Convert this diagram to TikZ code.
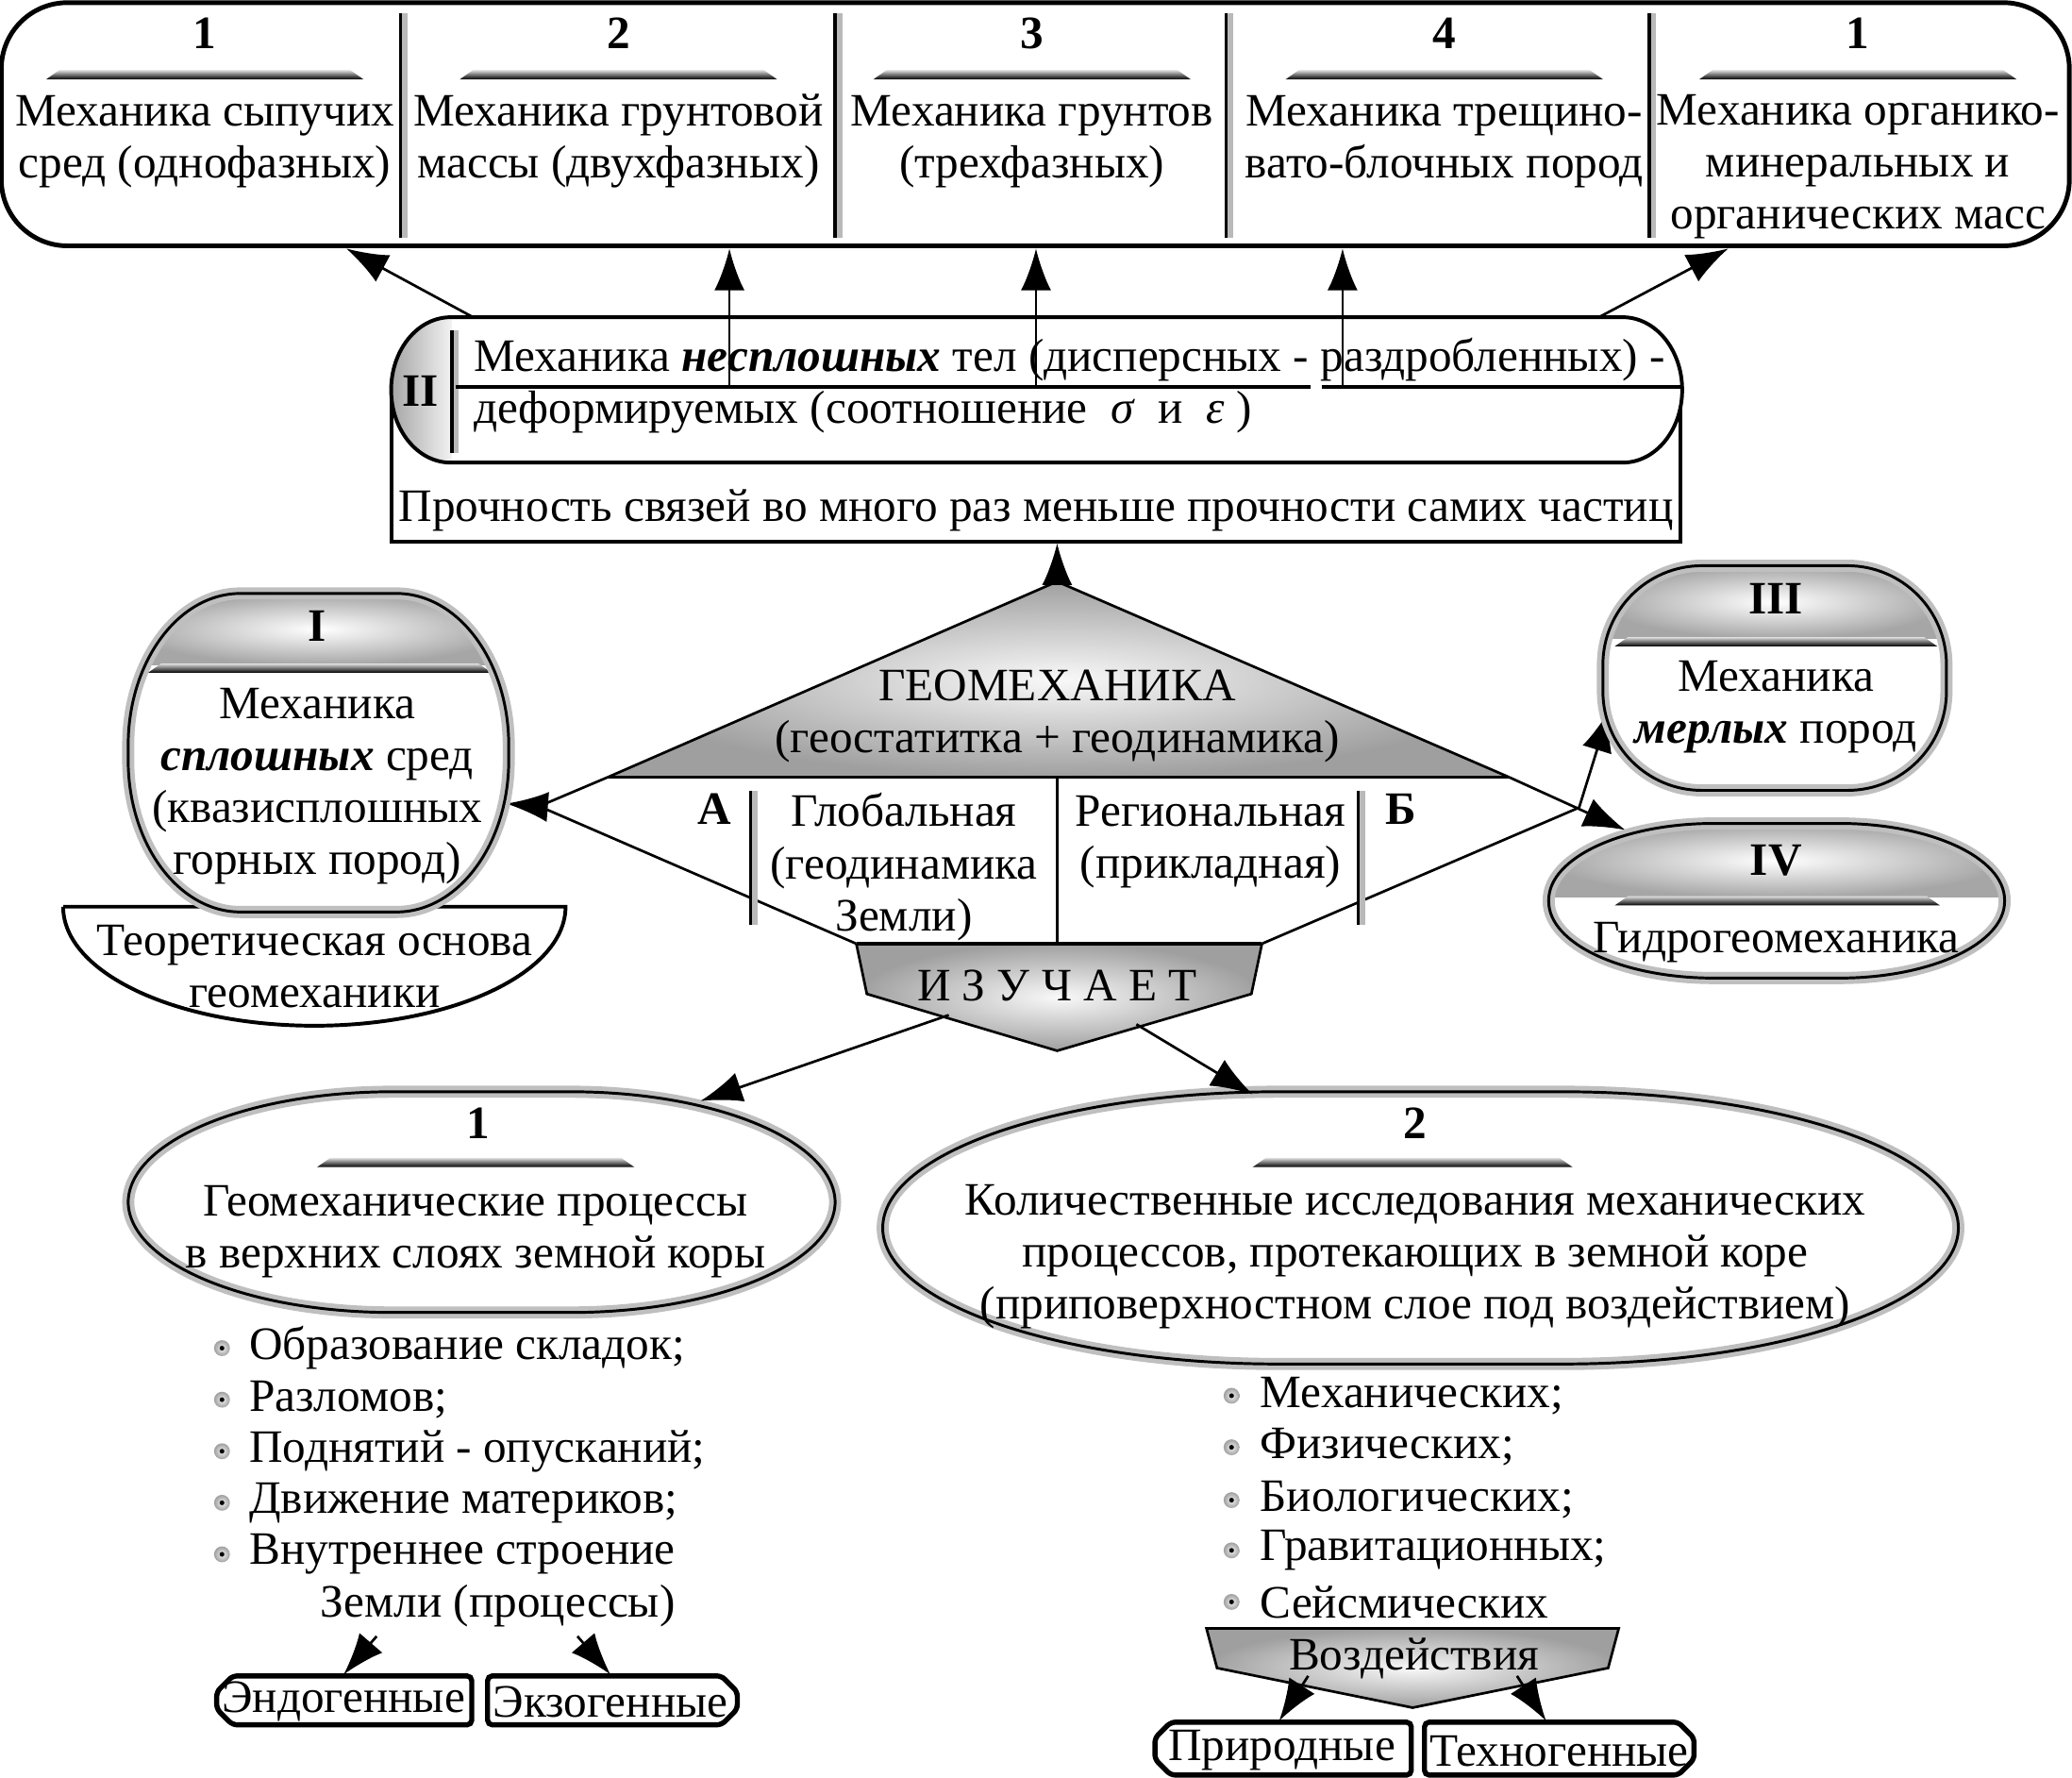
\documentclass[tikz,border=0pt]{standalone}
\usepackage{fontspec}
\setmainfont{Liberation Serif}
\usetikzlibrary{arrows.meta,calc}
\newcommand\ovalpath[6]{(#1+#5,#2) -- (#3-#5,#2) arc[start angle=90,end angle=0,x radius=#5*0.01cm,y radius=#6*0.01cm] -- (#3,#4-#6) arc[start angle=0,end angle=-90,x radius=#5*0.01cm,y radius=#6*0.01cm] -- (#1+#5,#4) arc[start angle=-90,end angle=-180,x radius=#5*0.01cm,y radius=#6*0.01cm] -- (#1,#2+#6) arc[start angle=180,end angle=90,x radius=#5*0.01cm,y radius=#6*0.01cm] -- cycle}
\newcommand\hdrbar[3]{\shade[top color=gray!25, bottom color=black] (#1,#3) -- (#1+10,#3-7) -- (#2-10,#3-7) -- (#2,#3) -- cycle;}
\newcommand\vdiv[3]{\draw[gray!55, line width=1.6pt] (#1+2.5,#2) -- (#1+2.5,#3); \draw[line width=0.7pt] (#1,#2) -- (#1,#3);}
\newcommand\bul[2]{\shade[inner color=gray!10, outer color=gray!75] (#1,#2) circle (0.06cm); \fill (#1,#2) circle (0.018cm);}
\begin{document}
\begin{tikzpicture}[x=0.01cm,y=-0.01cm,
  t/.style={font=\fontsize{10}{11.2}\selectfont, align=center, inner sep=0pt},
  tl/.style={font=\fontsize{10}{11.2}\selectfont, anchor=west, inner sep=0pt},
  b/.style={font=\fontsize{10}{11.2}\selectfont\bfseries, inner sep=0pt},
  arr/.style={line width=0.55pt, -{Latex[length=9pt,width=6.5pt]}},
  edge/.style={line width=0.55pt},
  outl/.style={line width=0.8pt},
  halo/.style={gray!50, line width=2.6pt},
  thin/.style={line width=0.6pt},
  boxl/.style={line width=1.1pt, fill=white, rounded corners=1pt},
]
\useasboundingbox (0,0) rectangle (1568,1345);
\fill[white] (0,0) rectangle (1568,1345);

% ---------- top box ----------
\draw[line width=1pt, rounded corners=0.5cm] (1,2) rectangle (1566,186);
\vdiv{303}{10}{180}
\vdiv{632}{10}{180}
\vdiv{928}{10}{180}
\vdiv{1248}{10}{180}
\foreach \x/\n in {155/1,468/2,781/3,1093/4,1406/1}{
  \node[b] (num\x) at (\x,25) {\n};
  \hdrbar{\x-120}{\x+120}{60}
}
\node[t] (c1) at (155,107) {Механика сыпучих\\сред (однофазных)};
\node[t] (c2) at (468,107) {Механика грунтовой\\массы (двухфазных)};
\node[t] (c3) at (781,107) {Механика грунтов\\(трехфазных)};
\node[t] (c4) at (1093,107) {Механика трещино-\\вато-блочных пород};
\node[t] (c5) at (1406,126) {Механика органико-\\минеральных и\\органических масс};

% ---------- block II ----------
\draw[outl] (296,296) -- (296,410) -- (1272,410) -- (1272,296);
\node[t] (strength) at (784,386) {Прочность связей во много раз меньше прочности самих частиц};
\fill[white] \ovalpath{296}{240}{1273}{350}{45}{55};
\begin{scope}
  \clip \ovalpath{296}{240}{1273}{350}{45}{55};
  \shade[left color=gray!70, right color=gray!10] (296,240) rectangle (342,350);
\end{scope}
\draw[outl] \ovalpath{296}{240}{1273}{350}{45}{55};
\vdiv{342}{250}{343}
\node[b] (ii) at (318,296) {II};
\draw[line width=0.8pt] (345,293) -- (992,293);
\draw[line width=0.8pt] (1000,293) -- (1272,293);
\node[tl] (l1) at (358,272) {Механика \textbf{\textit{несплошных}} тел (дисперсных - раздробленных) -};
\node[tl] (l2) at (358,312) {деформируемых (соотношение~ \textit{σ} ~и~ \textit{ε} )};

\coordinate (sa1) at (358,240); \coordinate (ta1) at (262,188);
\coordinate (sa2) at (552,293); \coordinate (ta2) at (552,188);
\coordinate (sa3) at (784,293); \coordinate (ta3) at (784,188);
\coordinate (sa4) at (1016,293); \coordinate (ta4) at (1016,188);
\coordinate (sa5) at (1210,240); \coordinate (ta5) at (1308,188);
\foreach \i in {1,...,5}{\draw[arr] (sa\i) -- (ta\i);}

% ---------- diamond ----------
\coordinate (dT) at (800,440);
\coordinate (dBL) at (460,588);
\coordinate (dBR) at (1142,588);
\coordinate (dL) at (408,610);
\coordinate (dR) at (1195,611);
\coordinate (pTL) at (648,714);
\coordinate (pTR) at (955,714);
\coordinate (pRR) at (947,752);
\coordinate (pB) at (800,795);
\coordinate (pLL) at (656,752);
\coordinate (Itip) at (383,608);
\coordinate (IIItip) at (1218,537);
\coordinate (IVtip) at (1230,628);
\coordinate (strb) at (800,411);

\shade[inner color=gray!5, outer color=gray!75] (dT) -- (dBR) -- (dBL) -- cycle;
\draw[edge] (dBL) -- (dT) -- (dBR);
\draw[line width=0.8pt] (dBL) -- (dBR);
\draw[edge] (dBL) -- (dL);
\draw[edge] (pTL) -- (dL);
\draw[edge] (pTR) -- (dR);
\draw[edge] (800,588) -- (800,714);
\vdiv{568}{598}{700}
\vdiv{1028}{598}{700}
\node[t] (geo) at (800,542) {ГЕОМЕХАНИКА\\(геостатитка + геодинамика)};
\node[b] (A) at (541,612) {А};
\node[t] (glob) at (684,656) {Глобальная\\(геодинамика\\Земли)};
\node[t] (reg) at (916,637) {Региональная\\(прикладная)};
\node[b] (B) at (1060,612) {Б};

\shade[inner color=gray!5, outer color=gray!75] (pTL) -- (pTR) -- (pRR) -- (pB) -- (pLL) -- cycle;
\draw[edge] (pTR) -- (pRR) -- (pB) -- (pLL) -- (pTL);
\draw[line width=1pt] (pTL) -- (pTR);
\node[t] (izu) at (800,746) {И З У Ч А Е Т};

\draw[arr] (dT) -- (strb);
\draw[arr] (dL) -- (Itip);
\draw[arr] (dBR) -- (IVtip);
\draw[arr] (dR) -- (IIItip);

% ---------- I ----------
\draw[outl, fill=white] (48,686) -- (428,686) arc[start angle=0,end angle=-180,x radius=1.9cm,y radius=0.9cm];
\node[t] (teor) at (238,731) {Теоретическая основа\\геомеханики};
\fill[white] \ovalpath{97}{449}{385}{690}{85}{115};
\begin{scope}
  \clip \ovalpath{97}{449}{385}{690}{85}{115};
  \shade[inner color=white, outer color=gray!70] (97,449) rectangle (385,503);
\end{scope}
\hdrbar{112}{372}{509}
\draw[halo] \ovalpath{97}{449}{385}{690}{85}{115};
\draw[thin] \ovalpath{97}{449}{385}{690}{85}{115};
\node[b] (Inum) at (240,474) {I};
\node[t] (Itxt) at (240,595) {Механика\\\textbf{\textit{сплошных}} сред\\(квазисплошных\\горных пород)};

% ---------- III ----------
\fill[white] \ovalpath{1213}{428}{1473}{598}{75}{75};
\begin{scope}
  \clip \ovalpath{1213}{428}{1473}{598}{75}{75};
  \shade[inner color=white, outer color=gray!70] (1213,428) rectangle (1473,483);
\end{scope}
\hdrbar{1222}{1466}{489}
\draw[halo] \ovalpath{1213}{428}{1473}{598}{75}{75};
\draw[thin] \ovalpath{1213}{428}{1473}{598}{75}{75};
\node[b] (IIInum) at (1344,453) {III};
\node[t] (IIItxt) at (1344,535) {Механика\\\textbf{\textit{мерлых}} пород};

% ---------- IV ----------
\fill[white] \ovalpath{1172}{623}{1517}{740}{125}{58};
\begin{scope}
  \clip \ovalpath{1172}{623}{1517}{740}{125}{58};
  \shade[inner color=white, outer color=gray!70] (1172,623) rectangle (1517,679);
\end{scope}
\hdrbar{1222}{1468}{685}
\draw[halo] \ovalpath{1172}{623}{1517}{740}{125}{58};
\draw[thin] \ovalpath{1172}{623}{1517}{740}{125}{58};
\node[b] (IVnum) at (1344,651) {IV};
\node[t] (IVtxt) at (1344,713) {Гидрогеомеханика};

% ---------- ellipse 1 ----------
\fill[white] \ovalpath{97}{826}{632}{993}{200}{84};
\draw[halo] \ovalpath{97}{826}{632}{993}{200}{84};
\draw[thin] \ovalpath{97}{826}{632}{993}{200}{84};
\node[b] (e1num) at (362,850) {1};
\hdrbar{240}{480}{883}
\node[t] (e1txt) at (360,932) {Геомеханические процессы\\в верхних слоях земной коры};

% ---------- ellipse 2 ----------
\fill[white] \ovalpath{668}{826}{1482}{1032}{300}{103};
\draw[halo] \ovalpath{668}{826}{1482}{1032}{300}{103};
\draw[thin] \ovalpath{668}{826}{1482}{1032}{300}{103};
\node[b] (e2num) at (1071,850) {2};
\hdrbar{948}{1190}{883}
\node[t] (e2txt) at (1071,951) {Количественные исследования механических\\процессов, протекающих в земной коре\\(приповерхностном слое под воздействием)};

\coordinate (iz1) at (718,768); \coordinate (e1tip) at (530,833);
\coordinate (iz2) at (860,775); \coordinate (e2tip) at (948,828);
\draw[arr] (iz1) -- (e1tip);
\draw[arr] (iz2) -- (e2tip);

% ---------- list 1 ----------
\foreach \y/\s [count=\k] in {1020/Образование складок;,1059/Разломов;,1098/Поднятий - опусканий;,1137/Движение материков;,1176/Внутреннее строение}{
  \bul{168}{\y}
  \node[tl] (la\k) at (188,\y) {\s};
}
\node[tl] (la6) at (242,1215) {Земли (процессы)};
\coordinate (pa1) at (285,1238); \coordinate (endtip) at (260,1267);
\coordinate (pa2) at (437,1238); \coordinate (exotip) at (462,1267);
\draw[arr] (pa1) -- (endtip);
\draw[arr] (pa2) -- (exotip);
\draw[boxl] (357,1268) -- (176,1268) -- (164,1280) -- (164,1293) -- (176,1305) -- (357,1305) -- cycle;
\node[t] (endo) at (260,1287) {Эндогенные};
\draw[boxl] (369,1268) -- (546,1268) -- (558,1280) -- (558,1293) -- (546,1305) -- (369,1305) -- cycle;
\node[t] (exo) at (462,1288) {Экзогенные};

% ---------- list 2 ----------
\foreach \y/\s [count=\k] in {1056/Механических;,1095/Физических;,1135/Биологических;,1173/Гравитационных;,1212/Сейсмических}{
  \bul{932}{\y}
  \node[tl] (lb\k) at (953,\y) {\s};
}
\shade[inner color=gray!5, outer color=gray!75] (913,1232) -- (1225,1232) -- (1217,1262) -- (1069,1292) -- (921,1262) -- cycle;
\draw[edge] (913,1232) -- (1225,1232) -- (1217,1262) -- (1069,1292) -- (921,1262) -- cycle;
\node[t] (vozd) at (1070,1255) {Воздействия};
\coordinate (va1) at (990,1268); \coordinate (pritip) at (968,1302);
\coordinate (va2) at (1148,1268); \coordinate (textip) at (1170,1302);
\draw[arr] (va1) -- (pritip);
\draw[arr] (va2) -- (textip);
\draw[boxl] (1068,1303) -- (886,1303) -- (874,1315) -- (874,1331) -- (886,1343) -- (1068,1343) -- cycle;
\node[t] (prir) at (970,1324) {Природные};
\draw[boxl] (1078,1303) -- (1270,1303) -- (1282,1315) -- (1282,1331) -- (1270,1343) -- (1078,1343) -- cycle;
\node[t] (tech) at (1180,1325) {Техногенные};
\end{tikzpicture}
\end{document}
